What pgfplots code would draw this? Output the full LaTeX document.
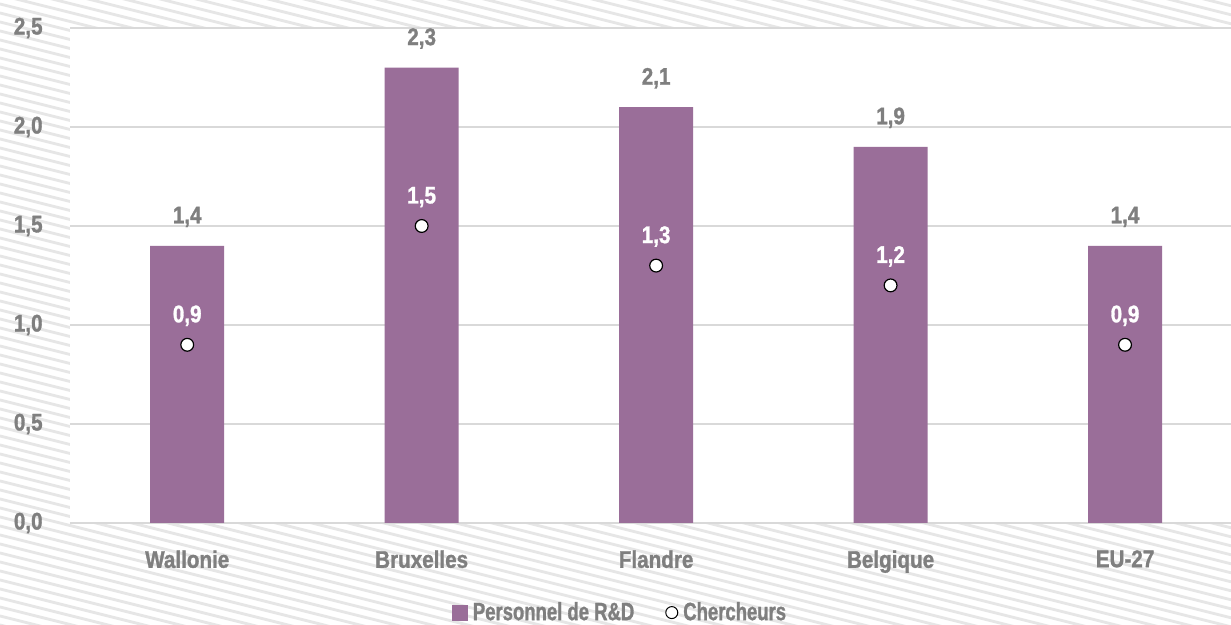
\documentclass[border=0pt]{standalone}
\usepackage{fontspec}
\setmainfont{Liberation Sans}[FakeStretch=0.86, BoldFeatures={FakeBold=1.2}]
\newfontfamily\legfont{Liberation Sans}[FakeStretch=0.74, BoldFeatures={FakeBold=1.2}]
\usepackage{pgfplots}
\pgfplotsset{compat=1.18}

\definecolor{barc}{RGB}{154,110,153}
\definecolor{gridc}{RGB}{217,217,217}
\definecolor{txtc}{RGB}{127,127,127}
\definecolor{hatchc}{RGB}{230,230,230}

\begin{document}
\begin{tikzpicture}
% 1px = 0.5pt, picture 1231x625 px
\path[use as bounding box] (0,0) rectangle (615.5pt,312.5pt);
\begin{scope}
  \clip (0,0) rectangle (615.5pt,312.5pt);
  \fill[white] (0,0) rectangle (615.5pt,312.5pt);
  \foreach \c in {0,4.5,...,480} {
    \draw[hatchc, line width=1.4pt] (0,\c pt) -- (615.5pt,\c pt-153.9pt);
  }
\end{scope}
\begin{axis}[
    at={(35pt,51pt)}, anchor=south west,
    scale only axis,
    width=580.5pt, height=247.5pt,
    axis background/.style={fill=white},
    xmin=-0.5, xmax=4.452, ymin=0, ymax=2.5,
    xtick={0,1,2,3,4},
    xticklabels={Wallonie, Bruxelles, Flandre, Belgique, EU-27},
    ytick={0,0.5,1,1.5,2,2.5},
    major tick length=0pt,
    axis line style={draw=none},
    ymajorgrids, grid style={gridc, line width=0.8pt},
    font=\fontsize{12pt}{14pt}\selectfont\bfseries,
    tick label style={txtc},
    /pgf/number format/.cd, use comma, fixed, fixed zerofill, precision=1,
      assume math mode=true,
    /pgfplots/.cd,
    yticklabel style={anchor=east, inner sep=0pt},
    yticklabel shift=13.5pt,
    xticklabel style={anchor=north, inner sep=0pt},
    xticklabel shift=13.5pt,
    nodes near coords,
    every node near coord/.append style={anchor=base, inner sep=0pt, yshift=11.25pt},
    legend columns=2,
    legend style={draw=none, fill=none, at={(0.475,-0.181)}, anchor=center,
      text=txtc, font=\legfont\fontsize{12.5pt}{14pt}\selectfont\bfseries,
      /tikz/every even column/.append style={column sep=13pt},
      nodes={inner sep=2.5pt}},
]
\addplot[ybar, bar width=37pt, fill=barc, draw=none,
    every node near coord/.append style={text=txtc},
    legend image code/.code={\fill[barc] (0pt,-4pt) rectangle (8pt,4pt);}]
  coordinates {(0,1.4) (1,2.3) (2,2.1) (3,1.9) (4,1.4)};
\addlegendentry{Personnel de R\&D}

\addplot[only marks, mark=*, mark size=3.2pt,
    mark options={fill=white, draw=black, line width=0.6pt},
    every node near coord/.append style={text=white},
    legend image code/.code={\draw[fill=white, draw=black, line width=0.5pt] (3pt,0pt) circle (3pt);}]
  coordinates {(0,0.9) (1,1.5) (2,1.3) (3,1.2) (4,0.9)};
\addlegendentry{Chercheurs}
\end{axis}
\end{tikzpicture}
\end{document}
